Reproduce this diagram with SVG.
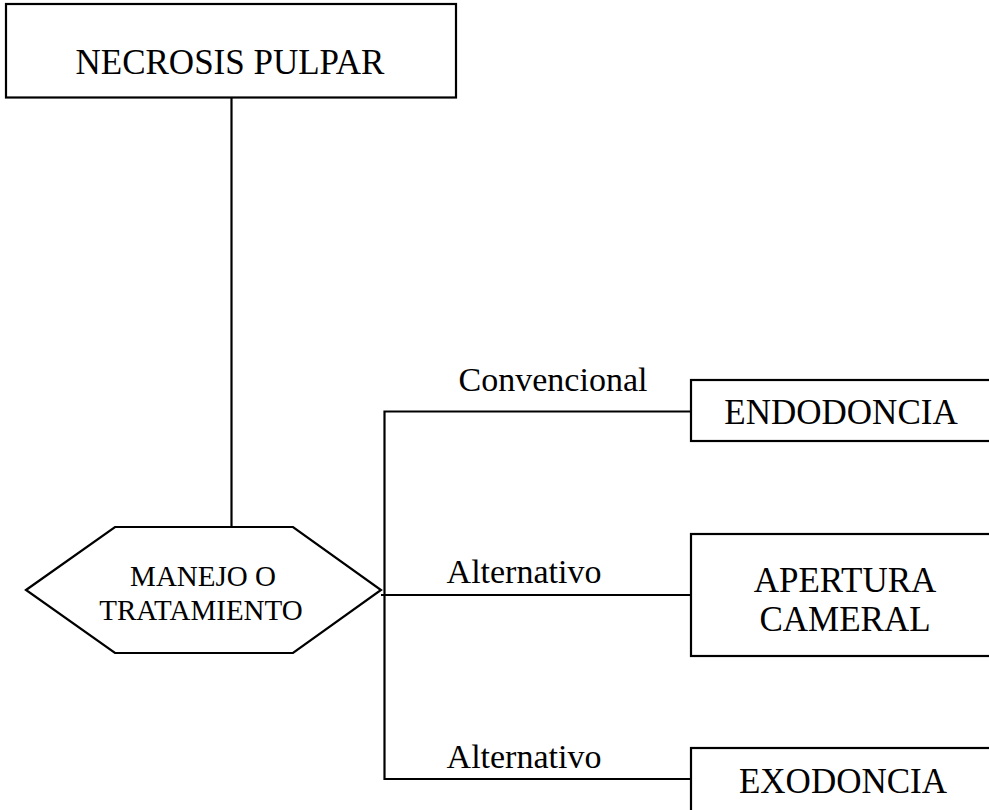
<svg xmlns="http://www.w3.org/2000/svg" width="989" height="810" viewBox="0 0 989 810">
<style>
.box{fill:#fff;stroke:#000;stroke-width:2.2}
.ln{fill:none;stroke:#000;stroke-width:2.2}
text{font-family:'Liberation Serif','Times New Roman',Tinos,'DejaVu Serif',serif;fill:#000;text-anchor:middle}
.big{font-size:35px}
.mid{font-size:29px}
.lbl{font-size:34px}
</style>
<rect width="989" height="810" fill="#fff"/>
<g id="connectors">
<line class="ln" x1="231.5" y1="97" x2="231.5" y2="527"/>
<polyline class="ln" points="691,411.5 384.5,411.5 384.5,779 691,779"/>
<line class="ln" x1="381" y1="595" x2="691" y2="595"/>
</g>
<g id="necrosis">
<rect class="box" x="6" y="4" width="450" height="93.5"/>
<text class="big" x="230" y="74">NECROSIS PULPAR</text>
</g>
<g id="manejo">
<polygon class="box" points="26,590 115,527 293,527 381,590 293,653 115,653"/>
<text class="mid" x="203" y="586">MANEJO O</text>
<text class="mid" x="201" y="620">TRATAMIENTO</text>
</g>
<g id="lbl1"><text class="lbl" x="553" y="391">Convencional</text></g>
<g id="lbl2"><text class="lbl" x="524" y="583">Alternativo</text></g>
<g id="lbl3"><text class="lbl" x="524" y="768">Alternativo</text></g>
<g id="endodoncia">
<rect class="box" x="691" y="380" width="310" height="61"/>
<text class="big" x="841" y="424">ENDODONCIA</text>
</g>
<g id="apertura">
<rect class="box" x="691" y="534" width="310" height="122"/>
<text class="big" x="845" y="592">APERTURA</text>
<text class="big" x="845" y="631">CAMERAL</text>
</g>
<g id="exodoncia">
<rect class="box" x="691" y="748" width="310" height="80"/>
<text class="big" x="843" y="793">EXODONCIA</text>
</g>
</svg>
